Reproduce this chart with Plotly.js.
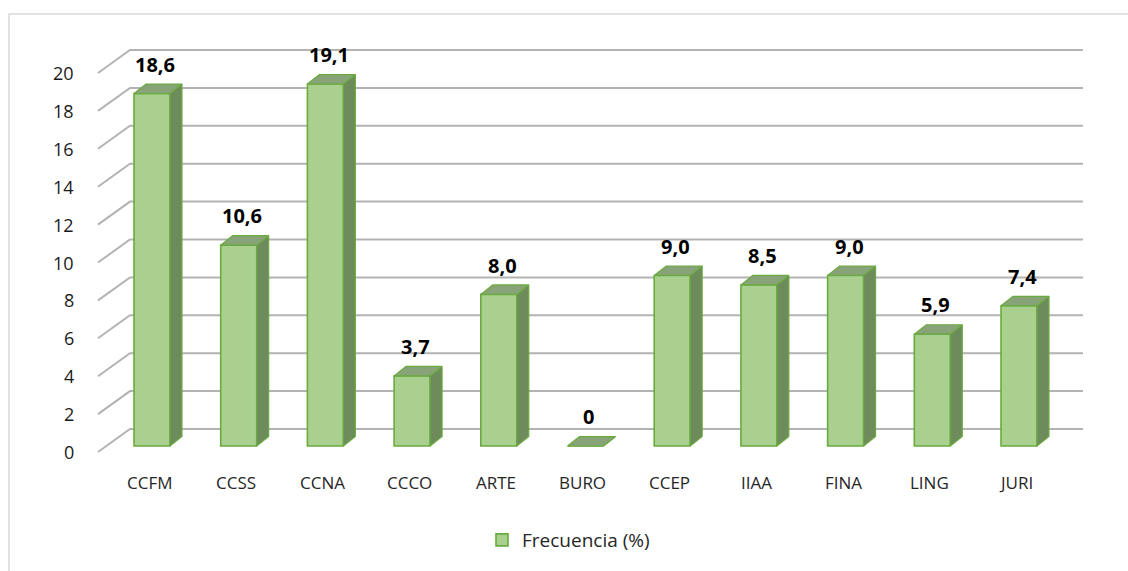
<!DOCTYPE html>
<html>
<head>
<meta charset="utf-8">
<script src="https://cdn.plot.ly/plotly-3.0.1.min.js"></script>
<style>
  html, body { margin: 0; padding: 0; background: #ffffff; }
  #chart { width: 1128px; height: 571px; }
</style>
</head>
<body>
<div id="chart"></div>
<script>
// ---- data ----
const categories = ['CCFM', 'CCSS', 'CCNA', 'CCCO', 'ARTE', 'BURO', 'CCEP', 'IIAA', 'FINA', 'LING', 'JURI'];
const values = [18.6, 10.6, 19.1, 3.7, 8.0, 0, 9.0, 8.5, 9.0, 5.9, 7.4];
const yTickValues = [0, 2, 4, 6, 8, 10, 12, 14, 16, 18, 20];
const yTickLabels = ['0', '2', '4', '6', '8', '10', '12', '14', '16', '18', '20'];
const seriesName = 'Frecuencia (%)';

// ---- projection / style constants (pseudo-3D) ----
const BAR_W = 0.415;     // front face width (category units)
const BDX = 0.138;       // bar depth offset in x
const BDY = 0.50;        // bar depth offset in y (value units)
const WALL = { xFront: -0.623, xBack: -0.254, xBackRight: 10.738, dyFront: -0.317, dyBack: 0.897 };

const FRONT_COLOR = '#a9d08f';
const SIDE_COLOR = '#6d8b5b';
const TOP_COLOR = '#88a377';
const EDGE_COLOR = '#6aab3f';
const GRID_COLOR = '#b3b3b3';
const FONT = 'Open Sans, Lato, Liberation Sans, sans-serif';

const xIdx = categories.map((c, i) => i);

function fmt(v) {
  return v === 0 ? '0' : v.toFixed(1).replace('.', ',');
}

// side and top faces
const sideX = [], sideY = [], topX = [], topY = [];
xIdx.forEach((x, i) => {
  const v = values[i];
  const l = x - BAR_W / 2, r = x + BAR_W / 2;
  sideX.push(r, r + BDX, r + BDX, r, r, null);
  sideY.push(0, BDY, v + BDY, v, 0, null);
  topX.push(l, l + BDX, r + BDX, r, l, null);
  topY.push(v, v + BDY, v + BDY, v, v, null);
});

const traces = [
  {
    type: 'bar',
    name: seriesName,
    x: xIdx,
    y: values,
    width: BAR_W,
    text: categories,
    hovertemplate: '%{text}: %{y}<extra></extra>',
    textposition: 'none',
    marker: { color: FRONT_COLOR, line: { color: EDGE_COLOR, width: 1.6 } },
    showlegend: true
  },
  {
    type: 'scatter', mode: 'lines', x: sideX, y: sideY,
    fill: 'toself', fillcolor: SIDE_COLOR,
    line: { color: EDGE_COLOR, width: 1.2 },
    hoverinfo: 'skip', showlegend: false
  },
  {
    type: 'scatter', mode: 'lines', x: topX, y: topY,
    fill: 'toself', fillcolor: TOP_COLOR,
    line: { color: EDGE_COLOR, width: 1.2 },
    hoverinfo: 'skip', showlegend: false
  }
];

// gridlines (floor-to-back-wall) from tick values
const shapes = yTickValues.map(v => ({
  type: 'path', xref: 'x', yref: 'y', layer: 'below',
  path: 'M' + WALL.xFront + ',' + (v + WALL.dyFront) +
        ' L' + WALL.xBack + ',' + (v + WALL.dyBack) +
        ' L' + WALL.xBackRight + ',' + (v + WALL.dyBack),
  line: { color: GRID_COLOR, width: 2 }
}));
// outer chart border
shapes.push({
  type: 'rect', xref: 'paper', yref: 'paper',
  x0: 9 / 1128, x1: 1.02, y0: -0.02, y1: 1 - 14 / 571,
  line: { color: '#d9d9d9', width: 1.5 }, fillcolor: 'rgba(0,0,0,0)', layer: 'below'
});

const annotations = [];
// y tick labels (front edge)
yTickValues.forEach((v, i) => {
  annotations.push({
    x: -0.877, y: v + WALL.dyFront, xref: 'x', yref: 'y',
    text: yTickLabels[i], showarrow: false, xanchor: 'right', yanchor: 'middle',
    font: { family: FONT, size: 18, color: '#1a1a1a' }
  });
});
// category labels
xIdx.forEach((x, i) => {
  annotations.push({
    x: x - 0.03, y: -1.9, xref: 'x', yref: 'y',
    text: categories[i], showarrow: false, xanchor: 'center', yanchor: 'middle',
    font: { family: FONT, size: 17, color: '#262626' }
  });
});
// data labels
xIdx.forEach((x, i) => {
  annotations.push({
    x: x + 0.04, y: values[i] + 1.55, xref: 'x', yref: 'y',
    text: '<b>' + fmt(values[i]) + '</b>', showarrow: false, xanchor: 'center', yanchor: 'middle',
    font: { family: FONT, size: 20, color: '#000000' }
  });
});

const layout = {
  width: 1128, height: 571,
  margin: { l: 0, r: 0, t: 0, b: 0 },
  paper_bgcolor: '#ffffff', plot_bgcolor: '#ffffff',
  xaxis: { range: [-1.7532, 11.2572], visible: false, fixedrange: true },
  yaxis: { range: [-6.596, 23.536], visible: false, fixedrange: true },
  showlegend: true,
  legend: {
    x: 482 / 1128, y: 1 - 540 / 571, xanchor: 'left', yanchor: 'middle',
    orientation: 'h', itemwidth: 30, bgcolor: 'rgba(0,0,0,0)',
    font: { family: FONT, size: 19, color: '#262626' }
  },
  shapes: shapes,
  annotations: annotations
};

Plotly.newPlot('chart', traces, layout, { displayModeBar: false, staticPlot: true });
</script>
</body>
</html>
